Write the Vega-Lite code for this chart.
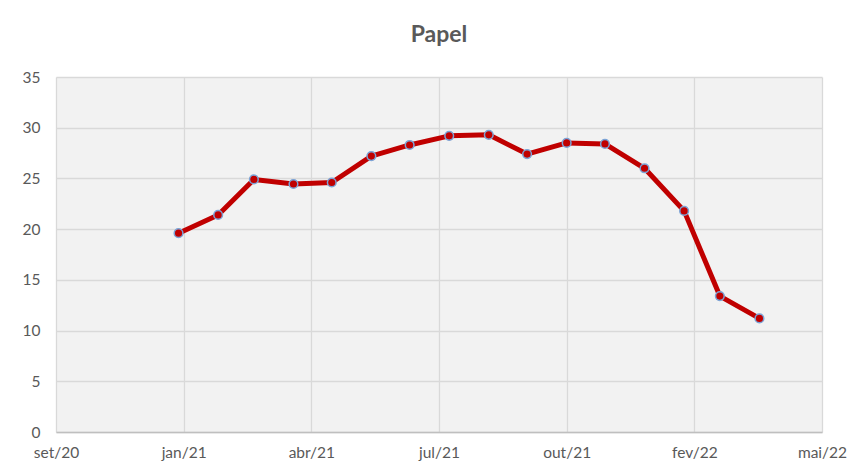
{
  "$schema": "https://vega.github.io/schema/vega-lite/v6.json",
  "width": 766,
  "height": 355,
  "autosize": {"type": "none"},
  "padding": {"left": 56, "top": 77, "right": 26, "bottom": 38},
  "background": "white",
  "title": {"text": "Papel", "anchor": "middle", "offset": 23, "fontSize": 23, "fontWeight": "bold", "color": "#595959", "font": "Lato"},
  "config": {
    "view": {"fill": "#f2f2f2", "stroke": null},
    "axis": {"labelFont": "Lato", "labelFontSize": 15.5, "labelColor": "#595959", "gridColor": "#d9d9d9", "gridWidth": 1.3, "ticks": false, "title": null}
  },
  "data": {"values": [
    {"date": "2020-12-31", "value": 19.6},
    {"date": "2021-01-31", "value": 21.4},
    {"date": "2021-02-28", "value": 24.9},
    {"date": "2021-03-31", "value": 24.45},
    {"date": "2021-04-30", "value": 24.6},
    {"date": "2021-05-31", "value": 27.2},
    {"date": "2021-06-30", "value": 28.3},
    {"date": "2021-07-31", "value": 29.2},
    {"date": "2021-08-31", "value": 29.3},
    {"date": "2021-09-30", "value": 27.4},
    {"date": "2021-10-31", "value": 28.5},
    {"date": "2021-11-30", "value": 28.4},
    {"date": "2021-12-31", "value": 26.0},
    {"date": "2022-01-31", "value": 21.8},
    {"date": "2022-02-28", "value": 13.4},
    {"date": "2022-03-31", "value": 11.2}
  ]},
  "encoding": {
    "x": {"field": "date", "type": "temporal",
      "scale": {"type": "utc", "domain": [{"year": 2020, "month": 9, "date": 26, "utc": true}, {"year": 2022, "month": 5, "date": 19, "utc": true}]},
      "axis": {
        "values": [
          {"year": 2020, "month": 9, "date": 26, "utc": true},
          {"year": 2021, "month": 1, "date": 4, "utc": true},
          {"year": 2021, "month": 4, "date": 14, "utc": true},
          {"year": 2021, "month": 7, "date": 23, "utc": true},
          {"year": 2021, "month": 10, "date": 31, "utc": true},
          {"year": 2022, "month": 2, "date": 8, "utc": true},
          {"year": 2022, "month": 5, "date": 19, "utc": true}
        ],
        "labelExpr": "['jan','fev','mar','abr','mai','jun','jul','ago','set','out','nov','dez'][utcmonth(datum.value)] + '/' + utcFormat(datum.value, '%y')",
        "grid": true, "domain": true, "domainColor": "#bfbfbf", "domainWidth": 1.5, "labelPadding": 13, "labelFlush": false
      }
    },
    "y": {"field": "value", "type": "quantitative",
      "scale": {"domain": [0, 35], "nice": false},
      "axis": {"values": [0, 5, 10, 15, 20, 25, 30, 35], "grid": true, "domain": false, "labelPadding": 16}
    }
  },
  "layer": [
    {"mark": {"type": "line", "color": "#c00000", "strokeWidth": 5, "strokeJoin": "round"}},
    {"mark": {"type": "point", "filled": true, "fill": "#c00000", "stroke": "#7ba3d6", "strokeWidth": 1.5, "size": 75, "opacity": 1}}
  ]
}
